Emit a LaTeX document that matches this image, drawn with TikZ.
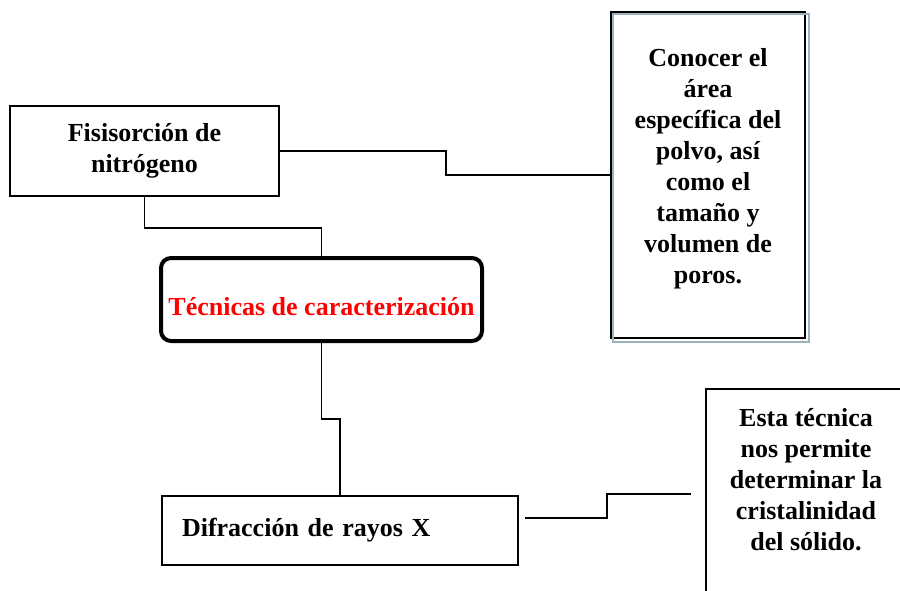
\documentclass[tikz,border=0pt]{standalone}
\usepackage{fontspec}
\setmainfont{Liberation Serif}
\usetikzlibrary{positioning, calc}
\definecolor{shadowblue}{HTML}{9DB2BF}
\definecolor{titlered}{HTML}{FF0000}

\begin{document}
\begin{tikzpicture}[
    x=0.5pt, y=-0.5pt,
    every node/.style={font=\fontsize{13}{15.5}\selectfont\bfseries, align=center},
    technique/.style={rectangle, draw, line width=1pt, inner sep=0pt},
    mainbox/.style={rectangle, rounded corners=5pt, draw, line width=2pt, minimum width=160.5pt, minimum height=41.5pt, text=titlered, inner sep=0pt, text height=16pt, text depth=0pt},
    link/.style={line width=0.6pt},
    shadowline/.style={draw=shadowblue, line width=0.9pt}
]
\clip (0,0) rectangle (900,590);
\node[technique, minimum width=134.5pt, minimum height=45pt] (fisi) at (144.5,151) {Fisisorción de\\nitrógeno};
\node[technique, minimum width=97pt, minimum height=163pt] (area) at (708,175) {};
\node (areatxt) at (708,168.5) {Conocer el\\área\\específica del\\polvo, así\\como el\\tamaño y\\volumen de\\poros.};
\draw[shadowline] ([shift={(3,3)}]area.north west) rectangle ([shift={(3,3)}]area.south east);
\node[mainbox] (tec) at (321.5,299.5) {Técnicas de caracterización};
\node[technique, minimum width=178pt, minimum height=34.5pt, text width=158pt, inner xsep=10pt, align=left] (difr) at (340,530.5) {Difracción de rayos X};
\node[technique, anchor=north west, minimum width=120pt, minimum height=130pt] (sol) at (705,388) {};
\node (soltxt) at (806,480) {Esta técnica\\nos permite\\determinar la\\cristalinidad\\del sólido.};
% connectors
\draw[link] (fisi.east) -- ++(166,0) |- (area.west);
\draw[link] (fisi.south) -- ++(0,31) -| (tec.north);
\draw[link] (tec.south) -- ++(0,76) -| (difr.north);
\coordinate (gapL) at (525,518);
\coordinate (gapR) at (691,494);
\draw[link] (gapL) -- ++(82,0) |- (gapR);
\end{tikzpicture}
\end{document}
